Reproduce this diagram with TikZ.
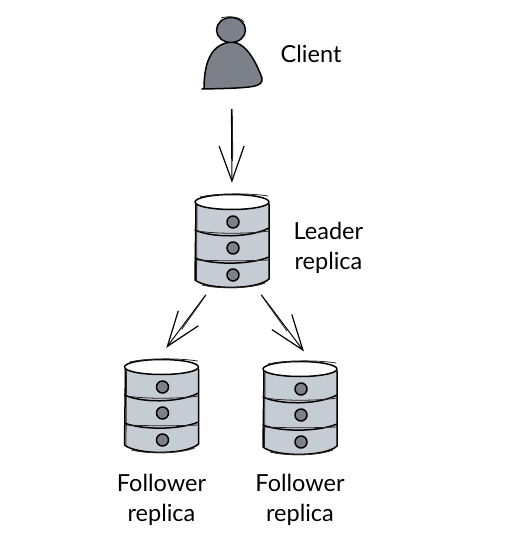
\documentclass[tikz,border=0pt]{standalone}
\usepackage{fontspec}
\setmainfont{Lato}
\usetikzlibrary{arrows.meta,positioning}
\definecolor{dbgrey}{HTML}{C6CCD3}
\definecolor{dotgrey}{HTML}{7B8089}
\tikzset{
	%Define style for the empty boxes that connectors attach to
	dbbox/.style={
		rectangle,
		inner sep=0pt,
		minimum width=76pt,
		minimum height=94pt},
	personbox/.style={
		rectangle,
		inner sep=0pt,
		minimum width=60pt,
		minimum height=72pt},
	caption/.style={
		align=center,
		font=\fontsize{23.5}{30}\selectfont},
	inkline/.style={line width=1.5pt,line cap=round,line join=round,black},
	thinline/.style={line width=.8pt,line cap=round,black!85},
	tipline/.style={-{Straight Barb[length=35pt,width=25pt,line width=1.2pt]},line width=1pt},
	pics/dbstack/.style={code={
		% body
		\fill[dbgrey] (-37,-40) -- (-37,38) .. controls (-25,48) and (25,48) .. (37,38) -- (37,-40) -- cycle;
		\draw[inkline] (-36,-38) -- (-37,38) .. controls (-25,48) and (25,48) .. (37,37) -- (37,-38);
		\draw[thinline] (-35,-36) -- (-35.5,39);
		\draw[thinline] (-30,43) .. controls (-15,47) and (18,47) .. (33,41);
		% bands
		\draw[inkline] (-37,-12) .. controls (-20,-4) and (18,-4) .. (37,-14);
		\draw[thinline] (-35,-11) .. controls (-15,-8) and (15,-8) .. (37,-11);
		\draw[inkline] (-37,16) .. controls (-20,23) and (18,23) .. (37,15);
		\draw[thinline] (-35,18) .. controls (-15,19) and (15,19) .. (37,18);
		% lid
		\draw[inkline,fill=white] (0,-40) ellipse [x radius=37pt,y radius=7.5pt];
		\draw[thinline] (-32,-45) .. controls (-15,-49) and (18,-49) .. (36,-46);
		% dots
		\foreach \doty in {-20,6,33}
			\draw[inkline,fill=dotgrey] (1,\doty) circle [radius=6pt];
	}},
	pics/person/.style={code={
		\draw[inkline,fill=dotgrey] (-27,35) .. controls (-27,5) and (-18,-10) .. (0,-12)
			.. controls (15,-12) and (25,8) .. (31,24)
			.. controls (32,33) and (24,34) .. (-29,35);
		\draw[inkline,fill=dotgrey] (0,-24) ellipse [x radius=14.5pt,y radius=12.5pt];
		\draw[thinline] (-10,-36) .. controls (-3,-38) and (8,-38) .. (13,-32);
	}}
}

\begin{document}
\begin{tikzpicture}[x=1pt,y=-1pt,node distance=16pt]
	\useasboundingbox (0,0) rectangle (514,551);
	\node[personbox] (client) at (231,54) {};
	\node[dbbox] (leader) at (232,242) {};
	\node[dbbox] (followerleft) at (161.5,407) {};
	\node[dbbox] (followerright) at (300,409) {};
	\pic at (client) {person};
	\pic at (leader) {dbstack};
	\pic at (followerleft) {dbstack};
	\pic at (followerright) {dbstack};
	\node[caption, right=16pt of client] (clientlabel) {Client};
	\node[caption, right=20pt of leader, yshift=-6pt] (leaderlabel) {Leader\\replica};
	\node[caption, below=16pt of followerleft] (followerleftlabel) {Follower\\replica};
	\node[caption, below=14pt of followerright] (followerrightlabel) {Follower\\replica};
	\path[tipline,shorten <=19pt,shorten >=12pt] (client) edge (leader.north);
	\path[thinline,shorten <=19pt,shorten >=34pt] (client) edge[bend left=1] (leader.north);
	\path[tipline,shorten <=7pt,shorten >=15pt] (leader.-115) edge (followerleft.95);
	\path[thinline,shorten <=7pt,shorten >=40pt] (leader.-115) edge[bend left=2] (followerleft.95);
	\path[tipline,shorten <=7pt,shorten >=13pt] (leader.-62) edge (followerright.76);
	\path[thinline,shorten <=7pt,shorten >=40pt] (leader.-62) edge[bend right=2] (followerright.76);
\end{tikzpicture}
\end{document}
